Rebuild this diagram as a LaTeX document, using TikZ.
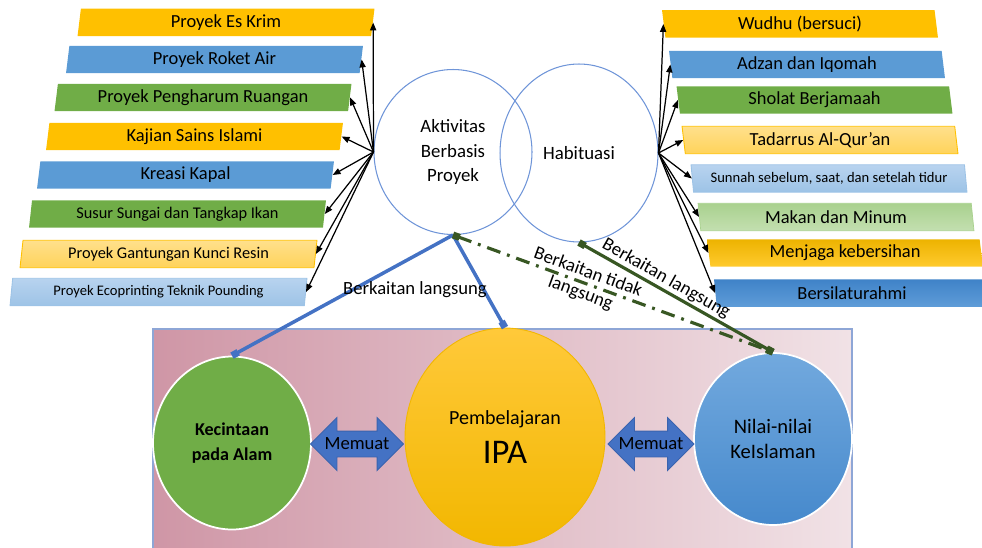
\documentclass[tikz,border=0pt]{standalone}
\usepackage{fontspec}
\setmainfont{Carlito}
\usetikzlibrary{shapes.geometric,shapes.arrows,arrows.meta}
\definecolor{ofOrange}{HTML}{FFC000}
\definecolor{ofBlue}{HTML}{5B9BD5}
\definecolor{ofGreen}{HTML}{70AD47}
\definecolor{ofDarkBlue}{HTML}{4472C4}
\definecolor{ofDarkGreen}{HTML}{385723}
\definecolor{ringBlue}{HTML}{6F95D8}
\definecolor{paleOrangeTop}{HTML}{FFE08C}
\definecolor{paleOrangeBot}{HTML}{FFD35A}
\definecolor{paleBlueTop}{HTML}{B8D3EF}
\definecolor{paleBlueBot}{HTML}{9DC3E6}
\definecolor{paleGreenTop}{HTML}{A9D18E}
\definecolor{paleGreenBot}{HTML}{C3DFB0}
\definecolor{goldTop}{HTML}{EDB300}
\definecolor{goldBot}{HTML}{FFCA2E}
\definecolor{deepBlueTop}{HTML}{3F82C8}
\definecolor{deepBlueBot}{HTML}{5F9DD8}
\definecolor{panelLeft}{HTML}{CF96A6}
\definecolor{panelRight}{HTML}{F1E2E6}
\definecolor{panelEdge}{HTML}{8EA6D6}
\definecolor{ipaTop}{HTML}{FFC93A}
\definecolor{ipaBot}{HTML}{F2B700}
\definecolor{islamTop}{HTML}{72A9DE}
\definecolor{islamBot}{HTML}{4689CC}
\definecolor{arrowEdge}{HTML}{3A63AE}

\begin{document}
\begin{tikzpicture}[x=0.02cm,y=-0.02cm,
    spoke/.style={-{Triangle[length=4.5pt,width=3.5pt]}, line width=0.7pt},
    lbox/.style={trapezium, trapezium left angle=78, trapezium right angle=102,
        trapezium stretches body, minimum width=5.94cm, minimum height=0.55cm,
        inner sep=0pt, font=\fontsize{10.5}{12}\selectfont},
    rbox/.style={trapezium, trapezium left angle=102, trapezium right angle=78,
        trapezium stretches body, minimum width=5.52cm, minimum height=0.55cm,
        inner sep=0pt, font=\fontsize{10.5}{12}\selectfont},
    smallbox/.style={font=\fontsize{8.3}{10}\selectfont},
    midbox/.style={font=\fontsize{9.3}{11}\selectfont},
    paleorange/.style={draw=ofOrange, line width=0.5pt, top color=paleOrangeTop, bottom color=paleOrangeBot},
    paleblue/.style={draw=paleBlueBot, line width=0.5pt, top color=paleBlueTop, bottom color=paleBlueBot},
    ring/.style={ellipse, draw=ringBlue, line width=0.6pt, minimum width=3.16cm,
        align=center, font=\fontsize{10.7}{13.9}\selectfont},
    ball/.style={ellipse, draw=white, line width=1pt, align=center},
    memuat/.style={double arrow, draw=arrowEdge, fill=ofDarkBlue, line width=0.5pt,
        double arrow head extend=0.27cm, inner xsep=0pt, inner ysep=0.25cm},
    direct/.style={draw=ofDarkBlue, line width=2pt, -{Square[length=4pt,width=4pt]}},
    linked/.style={draw=ofDarkGreen, line width=1.8pt,
        {Square[length=4pt,width=4pt]}-{Square[length=4pt,width=4pt]}},
    lbl/.style={font=\fontsize{10.6}{12.5}\selectfont, inner sep=1pt}]
\useasboundingbox (0,0) rectangle (982,547);

\fill[left color=panelLeft, right color=panelRight] (153,329) rectangle (852,560);
\draw[panelEdge, line width=0.6pt] (153,560) -- (153,329) -- (852,329) -- (852,560);

\node[lbox, fill=ofOrange] (esKrim) at (226,22.5) {Proyek Es Krim};
\node[lbox, fill=ofBlue] (roketAir) at (214.5,59.5) {Proyek Roket Air};
\node[lbox, fill=ofGreen] (pengharum) at (203,97.5) {Proyek Pengharum Ruangan};
\node[lbox, fill=ofOrange] (kajian) at (194.5,136.5) {Kajian Sains Islami};
\node[lbox, fill=ofBlue] (kapal) at (185.5,175) {Kreasi Kapal};
\node[lbox, midbox, fill=ofGreen] (sungai) at (177.5,214) {Susur Sungai dan Tangkap Ikan};
\node[lbox, midbox, paleorange] (gantungan) at (168.5,254) {Proyek Gantungan Kunci Resin};
\node[lbox, smallbox, paleblue] (ecoprint) at (158.5,292) {Proyek Ecoprinting Teknik Pounding};

\node[rbox, fill=ofOrange] (wudhu) at (800,24) {Wudhu (bersuci)};
\node[rbox, fill=ofBlue] (adzan) at (807,64.5) {Adzan dan Iqomah};
\node[rbox, fill=ofGreen] (sholat) at (814.5,100) {Sholat Berjamaah};
\node[rbox, paleorange] (tadarrus) at (820,140) {Tadarrus Al-Qur’an};
\node[rbox, smallbox, paleblue] (sunnah) at (829,178.5) {Sunnah sebelum, saat, dan setelah tidur};
\node[rbox, draw=paleGreenTop, top color=paleGreenTop, bottom color=paleGreenBot] (makan) at (836,217) {Makan dan Minum};
\node[rbox, top color=goldTop, bottom color=goldBot] (kebersihan) at (845,253) {Menjaga kebersihan};
\node[rbox, top color=deepBlueTop, bottom color=deepBlueBot] (silaturahmi) at (852,293) {Bersilaturahmi};

\node[ring, minimum height=3.3cm] (aktivitas) at (453,152) {Aktivitas\\Berbasis\\Proyek};
\node[ring, minimum height=3.56cm] (habituasi) at (579,153) {Habituasi};

\foreach \t in {esKrim,roketAir,pengharum,kajian,kapal,sungai,gantungan,ecoprint}
    \draw[spoke] (aktivitas.west) -- (\t.east);
\foreach \t in {wudhu,adzan,sholat,tadarrus,sunnah,makan,kebersihan,silaturahmi}
    \draw[spoke] (habituasi.east) -- (\t.west);

\node[ball, fill=ofGreen, minimum width=3.16cm, minimum height=3.46cm,
    font=\bfseries\fontsize{10.3}{14}\selectfont] (alam) at (232,443) {Kecintaan\\pada Alam};
\node[ball, draw=ipaBot, line width=0.5pt, top color=ipaTop, bottom color=ipaBot,
    minimum width=4cm, minimum height=4.36cm, font=\fontsize{11.4}{14}\selectfont]
    (ipa) at (505,437) {Pembelajaran\\[7pt]{\fontsize{19.7}{22}\selectfont IPA}};
\node[ball, top color=islamTop, bottom color=islamBot, minimum width=3.16cm,
    minimum height=3.44cm, font=\fontsize{11.7}{14.7}\selectfont]
    (islam) at (773,439) {Nilai-nilai\\KeIslaman};

\node[memuat, minimum height=1.86cm,
    label={[font=\fontsize{10.6}{12}\selectfont]center:Memuat}] (memuatL) at (357,444) {};
\node[memuat, minimum height=1.72cm,
    label={[font=\fontsize{10.6}{12}\selectfont]center:Memuat}] (memuatR) at (651,444) {};

\draw[direct] (aktivitas.south) -- (alam.north);
\draw[direct] (aktivitas.south) -- (ipa.north);
\node[lbl] (lblLangsung) at (415,290) {Berkaitan langsung};
\draw[linked, dash pattern=on 8pt off 4pt on 1.6pt off 4pt] (aktivitas.south)
    -- node[lbl, sloped, pos=0.41, align=center] (lblTidak) {Berkaitan tidak\\langsung} (islam.north);
\draw[linked] (habituasi.south)
    -- node[lbl, sloped, above, pos=0.42] (lblHabit) {Berkaitan langsung} (islam.north);
\end{tikzpicture}
\end{document}
